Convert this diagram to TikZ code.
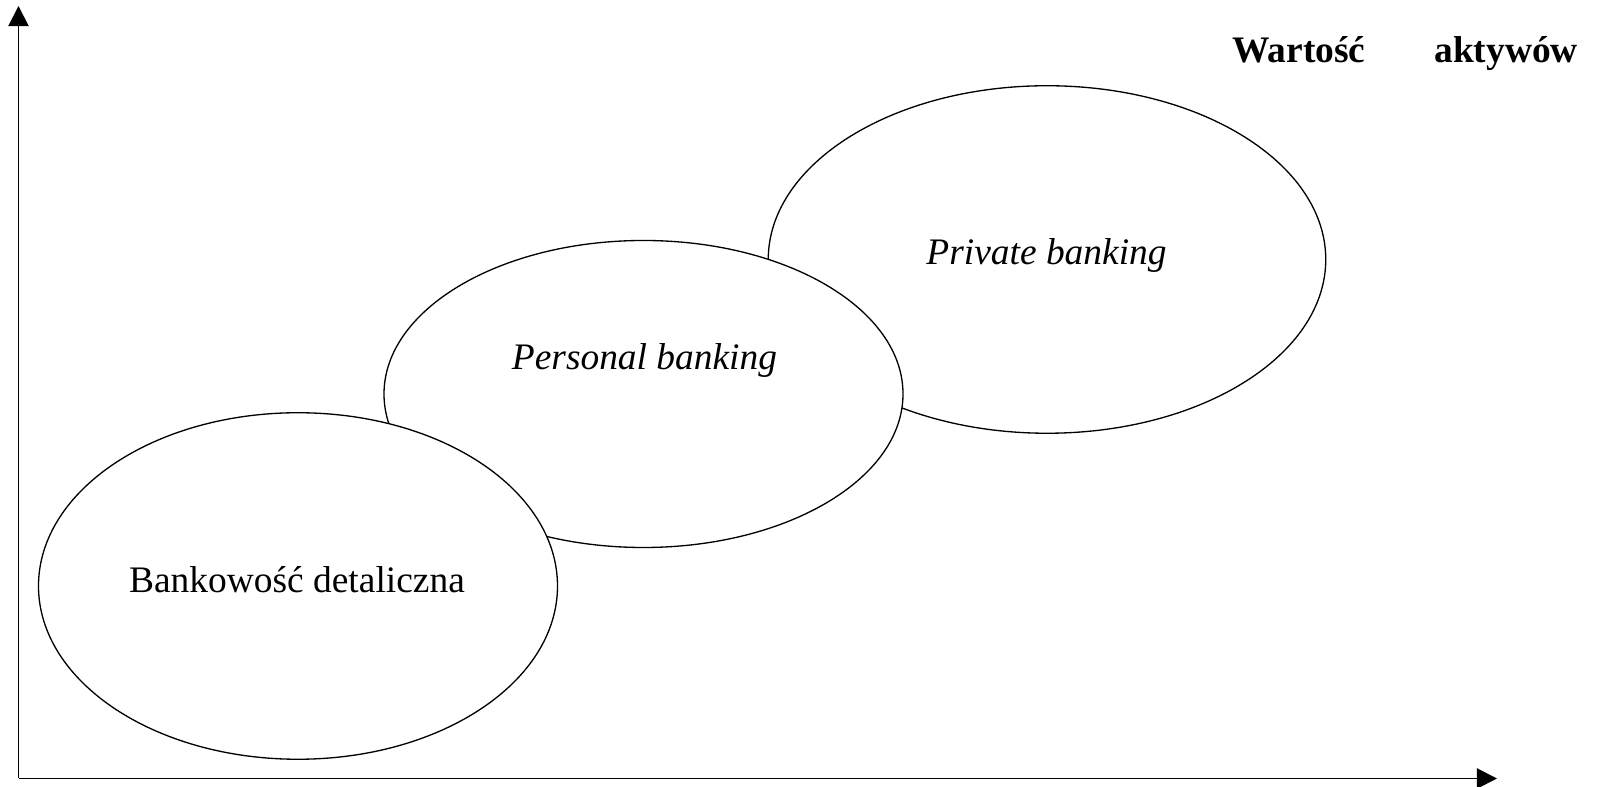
\documentclass[tikz,border=0pt]{standalone}
\usepackage{fontspec}
\setmainfont{Liberation Serif}
\usepackage{tikz}
\usetikzlibrary{shapes.geometric, arrows.meta, positioning, calc}

\begin{document}
\begin{tikzpicture}[
    segment/.style={ellipse, draw=black, fill=white, line width=0.75pt, inner sep=0pt},
    seglabel/.style={anchor=base, inner sep=0pt, font=\fontsize{21.3}{25}\selectfont},
    axis/.style={line width=1.1pt, -{Triangle[length=11.5pt, width=11.5pt]}}
]
    \useasboundingbox (0, 0) rectangle (31.96, 15.74);

    % Axes
    \coordinate (origin) at (0.37, 0.17);
    \coordinate (ytip) at (0.37, 15.62);
    \coordinate (xtip) at (29.94, 0.17);
    \draw[axis] (origin) -- (ytip);
    \draw[axis] (origin) -- (xtip);

    % Private banking
    \node[segment, minimum width=11.15cm, minimum height=6.95cm] (private) at (20.94, 10.55) {};
    \node[seglabel] (privatetxt) at (20.93, 10.44) {\itshape Private banking};

    % Personal banking
    \node[segment, minimum width=10.38cm, minimum height=6.14cm] (personal) at (12.87, 7.86) {};
    \node[seglabel] (personaltxt) at (12.89, 8.34) {\itshape Personal banking};

    % Bankowosc detaliczna
    \node[segment, minimum width=10.38cm, minimum height=6.93cm] (retail) at (5.96, 4.02) {};
    \node[seglabel] (retailtxt) at (5.94, 3.88) {Bankowość detaliczna};

    % Axis label
    \node[seglabel, anchor=base west] (assets) at (24.64, 14.48) {\bfseries Wartość\hspace{1.38cm}aktywów};

\end{tikzpicture}
\end{document}
